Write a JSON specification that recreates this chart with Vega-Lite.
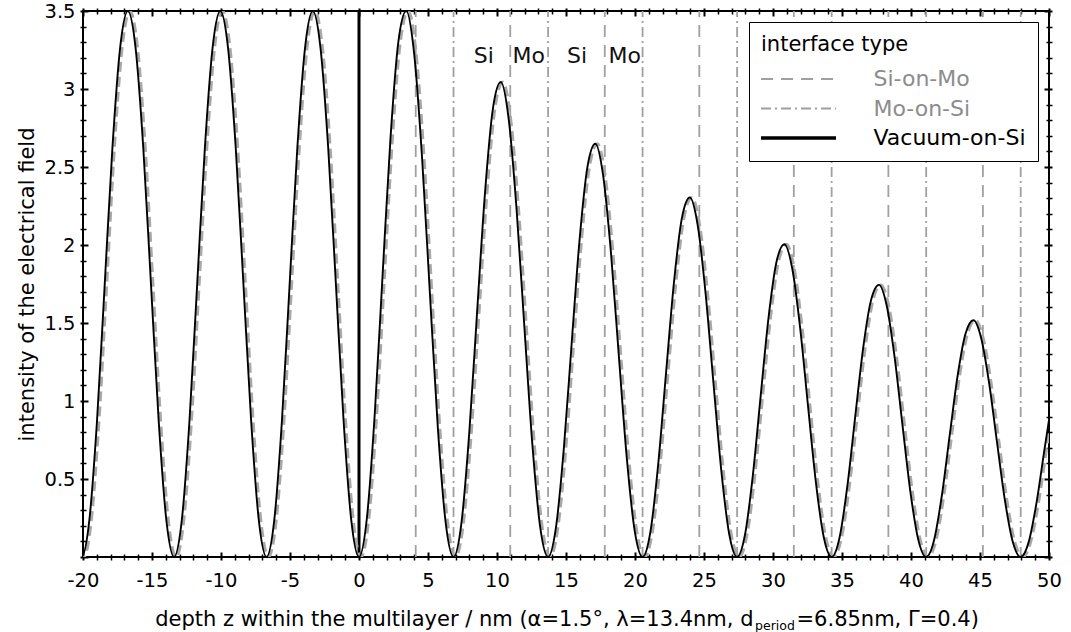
{
  "$schema": "https://vega.github.io/schema/vega-lite/v6.json",
  "width": 966,
  "height": 546,
  "autosize": {"type": "none"},
  "padding": {"left": 83, "top": 11, "right": 22, "bottom": 75},
  "background": "white",
  "config": {
    "font": "DejaVu Sans",
    "view": {"stroke": "black", "strokeWidth": 2},
    "axis": {"grid": false, "labelFont": "DejaVu Sans", "titleFont": "DejaVu Sans", "labelColor": "black", "titleColor": "black", "titleFontWeight": "normal", "tickColor": "black"}
  },
  "datasets": {
    "lines": [
      {"z": 0, "type": "Vacuum-on-Si"},
      {"z": 4.11, "type": "Si-on-Mo"}, {"z": 10.96, "type": "Si-on-Mo"}, {"z": 17.81, "type": "Si-on-Mo"}, {"z": 24.66, "type": "Si-on-Mo"}, {"z": 31.51, "type": "Si-on-Mo"}, {"z": 38.36, "type": "Si-on-Mo"}, {"z": 45.21, "type": "Si-on-Mo"},
      {"z": 6.85, "type": "Mo-on-Si"}, {"z": 13.7, "type": "Mo-on-Si"}, {"z": 20.55, "type": "Mo-on-Si"}, {"z": 27.4, "type": "Mo-on-Si"}, {"z": 34.25, "type": "Mo-on-Si"}, {"z": 41.1, "type": "Mo-on-Si"}, {"z": 47.95, "type": "Mo-on-Si"}
    ],
    "labels": [
      {"x": 9.05, "y": 3.21, "label": "Si"},
      {"x": 12.3, "y": 3.21, "label": "Mo"},
      {"x": 15.8, "y": 3.21, "label": "Si"},
      {"x": 19.25, "y": 3.21, "label": "Mo"}
    ],
    "solid": [
      {"z":-20.658,"I":0.2345},{"z":-20.1,"I":0},{"z":-19.542,"I":0.2345},{"z":-18.983,"I":0.875},{"z":-18.425,"I":1.75},{"z":-17.867,"I":2.625},{"z":-17.308,"I":3.2655},{"z":-16.75,"I":3.5},{"z":-16.192,"I":3.2655},{"z":-15.633,"I":2.625},{"z":-15.075,"I":1.75},{"z":-14.517,"I":0.875},{"z":-13.958,"I":0.2345},{"z":-13.4,"I":0},{"z":-12.842,"I":0.2345},{"z":-12.283,"I":0.875},{"z":-11.725,"I":1.75},{"z":-11.167,"I":2.625},{"z":-10.608,"I":3.2655},{"z":-10.05,"I":3.5},{"z":-9.492,"I":3.2655},{"z":-8.933,"I":2.625},{"z":-8.375,"I":1.75},{"z":-7.817,"I":0.875},{"z":-7.258,"I":0.2345},{"z":-6.7,"I":0},{"z":-6.142,"I":0.2345},{"z":-5.583,"I":0.875},{"z":-5.025,"I":1.75},{"z":-4.467,"I":2.625},{"z":-3.908,"I":3.2655},{"z":-3.35,"I":3.5},{"z":-2.792,"I":3.2655},{"z":-2.233,"I":2.625},{"z":-1.675,"I":1.75},{"z":-1.117,"I":0.875},{"z":-0.558,"I":0.2345},{"z":0,"I":0},
      {"z":0.5708,"I":0.2485},{"z":1.1417,"I":0.9166},{"z":1.7125,"I":1.812},{"z":2.2833,"I":2.6866},{"z":2.8542,"I":3.3037},{"z":3.425,"I":3.5},{"z":3.9958,"I":3.2279},{"z":4.5667,"I":2.5648},{"z":5.1375,"I":1.6901},{"z":5.7083,"I":0.8353},{"z":6.2792,"I":0.2213},{"z":6.85,"I":0},
      {"z":7.4208,"I":0.2162},{"z":7.9917,"I":0.7974},{"z":8.5625,"I":1.5764},{"z":9.1333,"I":2.3374},{"z":9.7042,"I":2.8742},{"z":10.275,"I":3.045},{"z":10.8458,"I":2.8082},{"z":11.4167,"I":2.2314},{"z":11.9875,"I":1.4704},{"z":12.5583,"I":0.7267},{"z":13.1292,"I":0.1925},{"z":13.7,"I":0},
      {"z":14.2708,"I":0.1881},{"z":14.8417,"I":0.6938},{"z":15.4125,"I":1.3715},{"z":15.9833,"I":2.0335},{"z":16.5542,"I":2.5005},{"z":17.125,"I":2.6492},{"z":17.6958,"I":2.4432},{"z":18.2667,"I":1.9413},{"z":18.8375,"I":1.2793},{"z":19.4083,"I":0.6322},{"z":19.9792,"I":0.1675},{"z":20.55,"I":0},
      {"z":21.1208,"I":0.1636},{"z":21.6917,"I":0.6036},{"z":22.2625,"I":1.1932},{"z":22.8333,"I":1.7692},{"z":23.4042,"I":2.1755},{"z":23.975,"I":2.3048},{"z":24.5458,"I":2.1256},{"z":25.1167,"I":1.6889},{"z":25.6875,"I":1.1129},{"z":26.2583,"I":0.5501},{"z":26.8292,"I":0.1457},{"z":27.4,"I":0},
      {"z":27.9708,"I":0.1423},{"z":28.5417,"I":0.5251},{"z":29.1125,"I":1.0381},{"z":29.6833,"I":1.5392},{"z":30.2542,"I":1.8927},{"z":30.825,"I":2.0051},{"z":31.3958,"I":1.8492},{"z":31.9667,"I":1.4694},{"z":32.5375,"I":0.9683},{"z":33.1083,"I":0.4785},{"z":33.6792,"I":0.1268},{"z":34.25,"I":0},
      {"z":34.8208,"I":0.1238},{"z":35.3917,"I":0.4568},{"z":35.9625,"I":0.9031},{"z":36.5333,"I":1.3391},{"z":37.1042,"I":1.6466},{"z":37.675,"I":1.7445},{"z":38.2458,"I":1.6088},{"z":38.8167,"I":1.2783},{"z":39.3875,"I":0.8424},{"z":39.9583,"I":0.4163},{"z":40.5292,"I":0.1103},{"z":41.1,"I":0},
      {"z":41.6708,"I":0.1077},{"z":42.2417,"I":0.3975},{"z":42.8125,"I":0.7857},{"z":43.3833,"I":1.165},{"z":43.9542,"I":1.4326},{"z":44.525,"I":1.5177},{"z":45.0958,"I":1.3997},{"z":45.6667,"I":1.1122},{"z":46.2375,"I":0.7329},{"z":46.8083,"I":0.3622},{"z":47.3792,"I":0.0959},{"z":47.95,"I":0},
      {"z":48.5208,"I":0.0937},{"z":49.0917,"I":0.3458},{"z":49.6625,"I":0.6836},{"z":50.2333,"I":1.0135}
    ],
    "dashed": [
      {"z":-20.508,"I":0.2345},{"z":-19.95,"I":0},{"z":-19.392,"I":0.2345},{"z":-18.833,"I":0.875},{"z":-18.275,"I":1.75},{"z":-17.717,"I":2.625},{"z":-17.158,"I":3.2655},{"z":-16.6,"I":3.5},{"z":-16.042,"I":3.2655},{"z":-15.483,"I":2.625},{"z":-14.925,"I":1.75},{"z":-14.367,"I":0.875},{"z":-13.808,"I":0.2345},{"z":-13.25,"I":0},{"z":-12.692,"I":0.2345},{"z":-12.133,"I":0.875},{"z":-11.575,"I":1.75},{"z":-11.017,"I":2.625},{"z":-10.458,"I":3.2655},{"z":-9.9,"I":3.5},{"z":-9.342,"I":3.2655},{"z":-8.783,"I":2.625},{"z":-8.225,"I":1.75},{"z":-7.667,"I":0.875},{"z":-7.108,"I":0.2345},{"z":-6.55,"I":0},{"z":-5.992,"I":0.2345},{"z":-5.433,"I":0.875},{"z":-4.875,"I":1.75},{"z":-4.317,"I":2.625},{"z":-3.758,"I":3.2655},{"z":-3.2,"I":3.5},{"z":-2.642,"I":3.2655},{"z":-2.083,"I":2.625},{"z":-1.525,"I":1.75},{"z":-0.967,"I":0.875},{"z":-0.408,"I":0.2345},{"z":0.15,"I":0},
      {"z":0.7208,"I":0.2485},{"z":1.2917,"I":0.9166},{"z":1.8625,"I":1.812},{"z":2.4333,"I":2.6866},{"z":3.0042,"I":3.3037},{"z":3.575,"I":3.5},{"z":4.1458,"I":3.2279},{"z":4.7167,"I":2.5648},{"z":5.2875,"I":1.6901},{"z":5.8583,"I":0.8353},{"z":6.4292,"I":0.2213},{"z":7.0,"I":0},
      {"z":7.5708,"I":0.2162},{"z":8.1417,"I":0.7974},{"z":8.7125,"I":1.5764},{"z":9.2833,"I":2.3374},{"z":9.8542,"I":2.8742},{"z":10.425,"I":3.045},{"z":10.9958,"I":2.8082},{"z":11.5667,"I":2.2314},{"z":12.1375,"I":1.4704},{"z":12.7083,"I":0.7267},{"z":13.2792,"I":0.1925},{"z":13.85,"I":0},
      {"z":14.4208,"I":0.1881},{"z":14.9917,"I":0.6938},{"z":15.5625,"I":1.3715},{"z":16.1333,"I":2.0335},{"z":16.7042,"I":2.5005},{"z":17.275,"I":2.6492},{"z":17.8458,"I":2.4432},{"z":18.4167,"I":1.9413},{"z":18.9875,"I":1.2793},{"z":19.5583,"I":0.6322},{"z":20.1292,"I":0.1675},{"z":20.7,"I":0},
      {"z":21.2708,"I":0.1636},{"z":21.8417,"I":0.6036},{"z":22.4125,"I":1.1932},{"z":22.9833,"I":1.7692},{"z":23.5542,"I":2.1755},{"z":24.125,"I":2.3048},{"z":24.6958,"I":2.1256},{"z":25.2667,"I":1.6889},{"z":25.8375,"I":1.1129},{"z":26.4083,"I":0.5501},{"z":26.9792,"I":0.1457},{"z":27.55,"I":0},
      {"z":28.1208,"I":0.1423},{"z":28.6917,"I":0.5251},{"z":29.2625,"I":1.0381},{"z":29.8333,"I":1.5392},{"z":30.4042,"I":1.8927},{"z":30.975,"I":2.0051},{"z":31.5458,"I":1.8492},{"z":32.1167,"I":1.4694},{"z":32.6875,"I":0.9683},{"z":33.2583,"I":0.4785},{"z":33.8292,"I":0.1268},{"z":34.4,"I":0},
      {"z":34.9708,"I":0.1238},{"z":35.5417,"I":0.4568},{"z":36.1125,"I":0.9031},{"z":36.6833,"I":1.3391},{"z":37.2542,"I":1.6466},{"z":37.825,"I":1.7445},{"z":38.3958,"I":1.6088},{"z":38.9667,"I":1.2783},{"z":39.5375,"I":0.8424},{"z":40.1083,"I":0.4163},{"z":40.6792,"I":0.1103},{"z":41.25,"I":0},
      {"z":41.8208,"I":0.1077},{"z":42.3917,"I":0.3975},{"z":42.9625,"I":0.7857},{"z":43.5333,"I":1.165},{"z":44.1042,"I":1.4326},{"z":44.675,"I":1.5177},{"z":45.2458,"I":1.3997},{"z":45.8167,"I":1.1122},{"z":46.3875,"I":0.7329},{"z":46.9583,"I":0.3622},{"z":47.5292,"I":0.0959},{"z":48.1,"I":0},
      {"z":48.6708,"I":0.0937},{"z":49.2417,"I":0.3458},{"z":49.8125,"I":0.6836},{"z":50.3833,"I":1.0135}
    ]
  },
  "layer": [
    {
      "data": {"name": "lines"},
      "mark": {"type": "rule"},
      "encoding": {
        "x": {
          "field": "z", "type": "quantitative",
          "scale": {"domain": [-20, 50], "nice": false, "zero": false},
          "axis": {
            "orient": "bottom",
            "values": [-20, -15, -10, -5, 0, 5, 10, 15, 20, 25, 30, 35, 40, 45, 50],
            "labelExpr": "'' + datum.value",
            "ticks": false, "tickSize": 0, "domain": false,
            "labelPadding": 14, "labelFontSize": 19.5, "labelFlush": false, "labelOverlap": false, "labelBound": false,
            "title": "depth z within the multilayer / nm (α=1.5°, λ=13.4nm, d",
            "titleFontSize": 21, "titleX": 670, "titleY": 68, "titleAlign": "right", "titleBaseline": "alphabetic"
          }
        },
        "y": {"datum": 0, "type": "quantitative", "scale": {"domain": [0, 3.5], "nice": false, "zero": false}, "axis": null},
        "y2": {"datum": 3.5},
        "color": {
          "field": "type", "type": "nominal",
          "scale": {"domain": ["Si-on-Mo", "Mo-on-Si", "Vacuum-on-Si"], "range": ["#a0a0a0", "#a0a0a0", "#000000"]},
          "legend": {
            "title": "interface type",
            "orient": "none", "legendX": 666, "legendY": 11,
            "padding": 12, "strokeColor": "black", "fillColor": "white",
            "titleFontSize": 21, "titleFontWeight": "normal", "titleColor": "black", "titleFont": "DejaVu Sans", "titlePadding": 13,
            "labelFontSize": 22, "labelFont": "DejaVu Sans", "labelOffset": 64, "labelLimit": 400,
            "labelColor": {"expr": "datum.value === 'Vacuum-on-Si' ? '#000000' : '#8c8c8c'"},
            "symbolType": "stroke", "symbolSize": 5625, "symbolOffset": 26.5,
            "symbolStrokeWidth": {"expr": "datum.value === 'Vacuum-on-Si' ? 3.5 : 2"},
            "rowPadding": 7.5
          }
        },
        "strokeDash": {
          "field": "type", "type": "nominal",
          "scale": {"domain": ["Si-on-Mo", "Mo-on-Si", "Vacuum-on-Si"], "range": [[12, 8], [10, 4, 2, 4], [1, 0]]},
          "legend": {"title": "interface type"}
        },
        "strokeWidth": {"condition": {"test": "datum.type === 'Vacuum-on-Si'", "value": 3}, "value": 1.8}
      }
    },
    {
      "data": {"name": "dashed"},
      "mark": {"type": "line", "interpolate": "monotone", "clip": true, "color": "#a8a8a8", "strokeWidth": 2.8, "strokeDash": [10, 5]},
      "encoding": {
        "x": {
          "field": "z", "type": "quantitative",
          "scale": {"domain": [-20, 50], "nice": false, "zero": false},
          "axis": {
            "orient": "bottom",
            "values": [-20,-19,-18,-17,-16,-15,-14,-13,-12,-11,-10,-9,-8,-7,-6,-5,-4,-3,-2,-1,0,1,2,3,4,5,6,7,8,9,10,11,12,13,14,15,16,17,18,19,20,21,22,23,24,25,26,27,28,29,30,31,32,33,34,35,36,37,38,39,40,41,42,43,44,45,46,47,48,49,50],
            "labels": false, "domain": false, "ticks": true, "offset": 3,
            "tickSize": {"condition": {"test": "datum.value % 5 === 0", "value": -8}, "value": -6},
            "tickWidth": {"condition": {"test": "datum.value % 5 === 0", "value": 2}, "value": 1.5},
            "title": "period", "titleFontSize": 12.5, "titleX": 671.5, "titleY": 69, "titleAlign": "left", "titleBaseline": "alphabetic"
          }
        },
        "y": {
          "field": "I", "type": "quantitative",
          "scale": {"domain": [0, 3.5], "nice": false, "zero": false},
          "axis": {
            "orient": "left",
            "values": [0.5, 1, 1.5, 2, 2.5, 3, 3.5],
            "labelExpr": "'' + datum.value",
            "ticks": false, "tickSize": 0, "domain": false,
            "labelPadding": 8, "labelFontSize": 19.5, "labelFlush": false, "labelOverlap": false,
            "title": "intensity of the electrical field", "titleFontSize": 21, "titleX": -50, "titleBaseline": "alphabetic"
          }
        }
      }
    },
    {
      "data": {"name": "solid"},
      "mark": {"type": "line", "interpolate": "monotone", "clip": true, "color": "#000000", "strokeWidth": 1.9},
      "encoding": {
        "x": {
          "field": "z", "type": "quantitative",
          "scale": {"domain": [-20, 50], "nice": false, "zero": false},
          "axis": {
            "orient": "top",
            "values": [-20,-19,-18,-17,-16,-15,-14,-13,-12,-11,-10,-9,-8,-7,-6,-5,-4,-3,-2,-1,0,1,2,3,4,5,6,7,8,9,10,11,12,13,14,15,16,17,18,19,20,21,22,23,24,25,26,27,28,29,30,31,32,33,34,35,36,37,38,39,40,41,42,43,44,45,46,47,48,49,50],
            "labels": false, "domain": false, "ticks": true, "offset": 3, "title": null,
            "tickSize": {"condition": {"test": "datum.value % 5 === 0", "value": -8}, "value": -6},
            "tickWidth": {"condition": {"test": "datum.value % 5 === 0", "value": 2}, "value": 1.5}
          }
        },
        "y": {
          "field": "I", "type": "quantitative",
          "scale": {"domain": [0, 3.5], "nice": false, "zero": false},
          "axis": {
            "orient": "left",
            "values": [0,0.1,0.2,0.3,0.4,0.5,0.6,0.7,0.8,0.9,1,1.1,1.2,1.3,1.4,1.5,1.6,1.7,1.8,1.9,2,2.1,2.2,2.3,2.4,2.5,2.6,2.7,2.8,2.9,3,3.1,3.2,3.3,3.4,3.5],
            "labels": false, "domain": false, "ticks": true, "offset": 3, "title": null,
            "tickSize": {"condition": {"test": "abs(datum.value*2 - round(datum.value*2)) < 0.001", "value": -8}, "value": -6},
            "tickWidth": {"condition": {"test": "abs(datum.value*2 - round(datum.value*2)) < 0.001", "value": 2}, "value": 1.5}
          }
        }
      }
    },
    {
      "data": {"name": "labels"},
      "mark": {"type": "text", "fontSize": 22, "font": "DejaVu Sans", "align": "center", "baseline": "middle", "color": "#111111"},
      "encoding": {
        "x": {
          "field": "x", "type": "quantitative",
          "scale": {"domain": [-20, 50], "nice": false, "zero": false},
          "axis": {
            "orient": "bottom", "labels": false, "ticks": false, "domain": false,
            "title": "=6.85nm, Γ=0.4)", "titleFontSize": 21, "titleX": 713, "titleY": 68, "titleAlign": "left", "titleBaseline": "alphabetic"
          }
        },
        "y": {
          "field": "y", "type": "quantitative",
          "scale": {"domain": [0, 3.5], "nice": false, "zero": false},
          "axis": {
            "orient": "right",
            "values": [0,0.1,0.2,0.3,0.4,0.5,0.6,0.7,0.8,0.9,1,1.1,1.2,1.3,1.4,1.5,1.6,1.7,1.8,1.9,2,2.1,2.2,2.3,2.4,2.5,2.6,2.7,2.8,2.9,3,3.1,3.2,3.3,3.4,3.5],
            "labels": false, "domain": false, "ticks": true, "offset": 3, "title": null,
            "tickSize": {"condition": {"test": "abs(datum.value*2 - round(datum.value*2)) < 0.001", "value": -8}, "value": -6},
            "tickWidth": {"condition": {"test": "abs(datum.value*2 - round(datum.value*2)) < 0.001", "value": 2}, "value": 1.5}
          }
        },
        "text": {"field": "label", "type": "nominal"}
      }
    }
  ],
  "resolve": {"axis": {"x": "independent", "y": "independent"}}
}
